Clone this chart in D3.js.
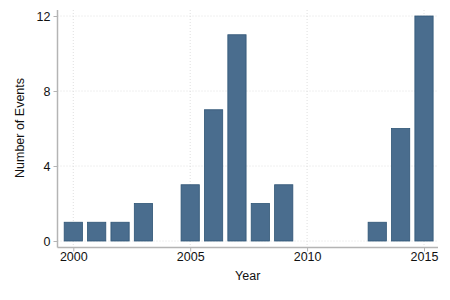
<!DOCTYPE html>
<html>
<head>
<meta charset="utf-8">
<script src="https://cdn.jsdelivr.net/npm/d3@7"></script>
<style>
  body { margin: 0; background: #fff; }
  text { font-family: "Liberation Sans", Arial, sans-serif; }
</style>
</head>
<body>
<div id="chart"></div>
<script>
// data
const years = [2000, 2001, 2002, 2003, 2004, 2005, 2006, 2007, 2008, 2009, 2010, 2011, 2012, 2013, 2014, 2015];
const events = [1, 1, 1, 2, 0, 3, 7, 11, 2, 3, 0, 0, 0, 1, 6, 12];
const xTicks = [2000, 2005, 2010, 2015];
const yTicks = [0, 4, 8, 12];

const width = 450, height = 300;

const svg = d3.select('#chart')
    .append('svg')
    .attr('width', width)
    .attr('height', height);

// scales
const x = d3.scaleLinear()
    .domain([2000, 2015])
    .range([73.3, 424]);

const y = d3.scaleLinear()
    .domain([0, 12])
    .range([241, 16]);

const barW = (x(2001) - x(2000)) * 0.78;

const plotLeft = 57.5, plotRight = 438, plotTop = 10, plotBottom = 247.5;

// grid lines
svg.append('g')
    .selectAll('line')
    .data(yTicks)
    .enter()
    .append('line')
    .attr('x1', plotLeft)
    .attr('x2', plotRight)
    .attr('y1', d => y(d))
    .attr('y2', d => y(d))
    .style('stroke', '#d8d8d8')
    .style('stroke-width', 0.8)
    .style('stroke-dasharray', '1,2');

svg.append('g')
    .selectAll('line')
    .data(xTicks)
    .enter()
    .append('line')
    .attr('x1', d => x(d))
    .attr('x2', d => x(d))
    .attr('y1', plotTop)
    .attr('y2', plotBottom)
    .style('stroke', '#d8d8d8')
    .style('stroke-width', 0.8)
    .style('stroke-dasharray', '1,2');

// bars
svg.append('g')
    .selectAll('rect')
    .data(years.map((yr, i) => ({ year: yr, value: events[i] })).filter(d => d.value > 0))
    .enter()
    .append('rect')
    .attr('x', d => x(d.year) - barW / 2)
    .attr('width', barW)
    .attr('y', d => y(d.value))
    .attr('height', d => y(0) - y(d.value))
    .style('fill', '#4a6d8e')
    .style('stroke', '#2f5576')
    .style('stroke-width', 0.8);

// axes
const yAxis = d3.axisLeft(y)
    .tickValues(yTicks)
    .tickSize(4)
    .tickPadding(3);

const yg = svg.append('g')
    .attr('transform', `translate(${plotLeft},0)`)
    .call(yAxis);
yg.select('.domain').remove();

svg.append('line')
    .attr('x1', plotLeft)
    .attr('x2', plotLeft)
    .attr('y1', plotTop)
    .attr('y2', plotBottom)
    .style('stroke', '#b4b4b4')
    .style('stroke-width', 1.5);

const xAxis = d3.axisBottom(x)
    .tickValues(xTicks)
    .tickFormat(d3.format('d'))
    .tickSize(4)
    .tickPadding(1);

const xg = svg.append('g')
    .attr('transform', `translate(0,${plotBottom})`)
    .call(xAxis);
xg.select('.domain').remove();

svg.append('line')
    .attr('x1', plotLeft)
    .attr('x2', plotRight)
    .attr('y1', plotBottom)
    .attr('y2', plotBottom)
    .style('stroke', '#b4b4b4')
    .style('stroke-width', 1.5);

svg.selectAll('.tick line')
    .style('stroke', '#b4b4b4');

svg.selectAll('.tick text')
    .style('font-size', '12.5px')
    .style('fill', '#111');

// axis titles
svg.append('text')
    .attr('x', (plotLeft + plotRight) / 2)
    .attr('y', 280)
    .attr('text-anchor', 'middle')
    .style('font-size', '12.5px')
    .style('fill', '#111')
    .text('Year');

svg.append('text')
    .attr('transform', 'translate(24,128) rotate(-90)')
    .attr('text-anchor', 'middle')
    .style('font-size', '12.5px')
    .style('fill', '#111')
    .text('Number of Events');
</script>
</body>
</html>
